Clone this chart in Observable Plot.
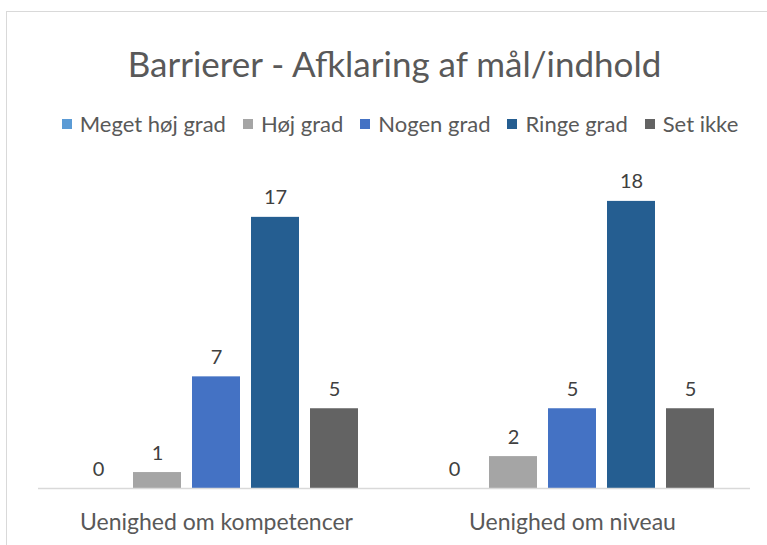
<!DOCTYPE html>
<html>
<head>
<meta charset="utf-8">
<script src="https://cdn.jsdelivr.net/npm/d3@7"></script>
<script src="https://cdn.jsdelivr.net/npm/@observablehq/plot@0.6"></script>
<style>
  html, body { margin: 0; padding: 0; background: #fff; overflow: hidden; }
  #wrap { position: relative; width: 767px; height: 545px; font-family: Lato, "Open Sans", sans-serif; color: #595959; }
  #frame { position: absolute; left: 6px; top: 11px; width: 800px; height: 600px; border: 1.5px solid #D9D9D9; box-sizing: border-box; }
  #title { position: absolute; left: 11px; width: 767px; top: 40px; text-align: center; font-size: 35px; line-height: 46px; color: #595959; }
  #legend { position: absolute; left: 16px; width: 767px; top: 111px; display: flex; justify-content: center; font-size: 22px; line-height: 26px; color: #595959; }
  .item { display: flex; align-items: center; margin: 0 8px 0 9px; }
  .sw { width: 10px; height: 10px; margin-right: 8px; }
  #chart { position: absolute; left: 0; top: 150px; }
</style>
</head>
<body>
<div id="wrap">
  <div id="frame"></div>
  <div id="title"></div>
  <div id="legend"></div>
  <div id="chart"></div>
</div>
<script>
const title = "Barrierer - Afklaring af mål/indhold";
const categories = ["Uenighed om kompetencer", "Uenighed om niveau"];
const series = ["Meget høj grad", "Høj grad", "Nogen grad", "Ringe grad", "Set ikke"];
const colors = ["#5B9BD5", "#A5A5A5", "#4472C4", "#255E91", "#636363"];
const valuesKompetencer = [0, 1, 7, 17, 5];
const valuesNiveau = [0, 2, 5, 18, 5];

const seriesValues = [valuesKompetencer, valuesNiveau];
const data = [];
categories.forEach((c, i) => series.forEach((s, j) => data.push({category: c, series: s, value: seriesValues[i][j]})));

document.getElementById("title").textContent = title;
const legend = document.getElementById("legend");
series.forEach((s, j) => {
  const it = document.createElement("div");
  it.className = "item";
  const sw = document.createElement("div");
  sw.className = "sw";
  sw.style.background = colors[j];
  const t = document.createElement("span");
  t.textContent = s;
  it.appendChild(sw); it.appendChild(t);
  legend.appendChild(it);
});

const chart = Plot.plot({
  width: 767,
  height: 395,
  marginLeft: 38,
  marginRight: 17,
  marginTop: 19,
  marginBottom: 57,
  style: {fontFamily: "Lato, 'Open Sans', sans-serif", background: "transparent", color: "#595959"},
  fx: {domain: categories, padding: 0},
  x: {domain: series, paddingInner: 0.19, paddingOuter: 0.59, axis: null},
  y: {domain: [0, 20], axis: null},
  color: {domain: series, range: colors},
  marks: [
    Plot.barY(data, {fx: "category", x: "series", y: "value", fill: "series"}),
    Plot.ruleY([0], {stroke: "#D9D9D9", strokeWidth: 1.5}),
    Plot.text(data, {fx: "category", x: "series", y: "value", text: d => String(d.value), lineAnchor: "bottom", dy: -13, fontSize: 20, fill: "#404040"}),
    Plot.axisFx({anchor: "bottom", tickSize: 0, tickPadding: 25, fontSize: 23, fill: "#595959", label: null})
  ]
});
document.getElementById("chart").appendChild(chart);
</script>
</body>
</html>
